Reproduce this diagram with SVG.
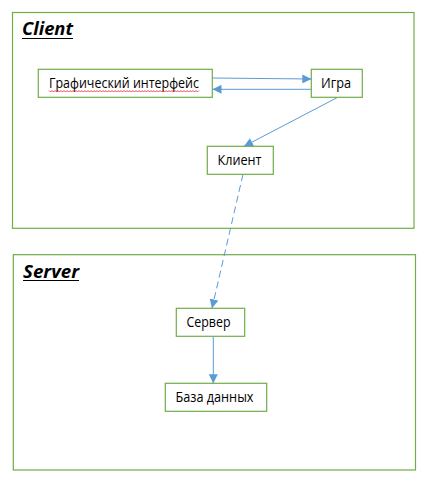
<svg xmlns="http://www.w3.org/2000/svg" width="440" height="485" viewBox="0 0 440 485">
<defs>
<style>
.frame{fill:none;stroke:#70AD47;stroke-width:1.2}
.box{fill:#fff;stroke:#70AD47;stroke-width:1.2}
.lbl{font-family:"Open Sans","Liberation Sans",sans-serif;font-size:14.5px;fill:#000}
.title{font-family:"Open Sans","Liberation Sans",sans-serif;font-size:17px;font-weight:bold;font-style:italic;fill:#000}
.conn{fill:none;stroke:#5B9BD5;stroke-width:1}
</style>
<marker id="ah" viewBox="0 0 10 10" refX="10" refY="5" markerWidth="9" markerHeight="9" markerUnits="userSpaceOnUse" orient="auto">
<path d="M0,0 L10,5 L0,10 z" fill="#5B9BD5"/>
</marker>
</defs>
<rect width="440" height="485" fill="#fff"/>
<g id="client-frame">
<rect class="frame" x="12.5" y="12.5" width="401.5" height="215.8"/>
<text class="title" x="22" y="35" textLength="51" lengthAdjust="spacingAndGlyphs">Client</text>
<line x1="22" y1="38.5" x2="73" y2="38.5" stroke="#000" stroke-width="1"/>
</g>
<g id="server-frame">
<rect class="frame" x="13.3" y="254.7" width="402.2" height="215.3"/>
<text class="title" x="23" y="277.5" textLength="56" lengthAdjust="spacingAndGlyphs">Server</text>
<line x1="23" y1="280.5" x2="79" y2="280.5" stroke="#000" stroke-width="1"/>
</g>
<g id="node-gui">
<rect class="box" x="38.3" y="69.3" width="174" height="28"/>
<text class="lbl" x="49" y="88.3" textLength="150" lengthAdjust="spacingAndGlyphs">Графический интерфейс</text>
<path d="M49,90.5 l1.5,1.5 l1.5,-1.5 l1.5,1.5 l1.5,-1.5 l1.5,1.5 l1.5,-1.5 l1.5,1.5 l1.5,-1.5 l1.5,1.5 l1.5,-1.5 l1.5,1.5 l1.5,-1.5 l1.5,1.5 l1.5,-1.5 l1.5,1.5 l1.5,-1.5 l1.5,1.5 l1.5,-1.5 l1.5,1.5 l1.5,-1.5
l1.5,1.5 l1.5,-1.5 l1.5,1.5 l1.5,-1.5 l1.5,1.5 l1.5,-1.5 l1.5,1.5 l1.5,-1.5 l1.5,1.5 l1.5,-1.5 l1.5,1.5 l1.5,-1.5 l1.5,1.5 l1.5,-1.5 l1.5,1.5 l1.5,-1.5 l1.5,1.5 l1.5,-1.5 l1.5,1.5 l1.5,-1.5
l1.5,1.5 l1.5,-1.5 l1.5,1.5 l1.5,-1.5 l1.5,1.5 l1.5,-1.5 l1.5,1.5 l1.5,-1.5 l1.5,1.5 l1.5,-1.5 l1.5,1.5 l1.5,-1.5 l1.5,1.5 l1.5,-1.5 l1.5,1.5 l1.5,-1.5 l1.5,1.5 l1.5,-1.5 l1.5,1.5 l1.5,-1.5
l1.5,1.5 l1.5,-1.5 l1.5,1.5 l1.5,-1.5 l1.5,1.5 l1.5,-1.5 l1.5,1.5 l1.5,-1.5 l1.5,1.5 l1.5,-1.5 l1.5,1.5 l1.5,-1.5 l1.5,1.5 l1.5,-1.5 l1.5,1.5 l1.5,-1.5 l1.5,1.5 l1.5,-1.5 l1.5,1.5 l1.5,-1.5
l1.5,1.5 l1.5,-1.5 l1.5,1.5 l1.5,-1.5 l1.5,1.5 l1.5,-1.5 l1.5,1.5 l1.5,-1.5 l1.5,1.5 l1.5,-1.5 l1.5,1.5 l1.5,-1.5 l1.5,1.5 l1.5,-1.5 l1.5,1.5 l1.5,-1.5 l1.5,1.5 l1.5,-1.5 l1.5,1.5 l1.5,-1.5" fill="none" stroke="#E02020" stroke-width="0.8"/>
</g>
<g id="node-game">
<rect class="box" x="311.3" y="69.3" width="51" height="28"/>
<text class="lbl" x="321" y="88.3" textLength="30" lengthAdjust="spacingAndGlyphs">Игра</text>
</g>
<g id="node-client">
<rect class="box" x="207.3" y="146.3" width="66" height="28"/>
<text class="lbl" x="217.5" y="165.3" textLength="44" lengthAdjust="spacingAndGlyphs">Клиент</text>
</g>
<g id="node-server">
<rect class="box" x="176.3" y="308.3" width="68.4" height="28"/>
<text class="lbl" x="186.5" y="327.3" textLength="44" lengthAdjust="spacingAndGlyphs">Сервер</text>
</g>
<g id="node-db">
<rect class="box" x="165.3" y="383.3" width="101.4" height="28"/>
<text class="lbl" x="175.5" y="402.3" textLength="78" lengthAdjust="spacingAndGlyphs">База данных</text>
</g>
<g id="connectors">
<line class="conn" x1="212.3" y1="78" x2="311.3" y2="79" marker-end="url(#ah)"/>
<line class="conn" x1="311.3" y1="89.3" x2="212.5" y2="89.3" marker-end="url(#ah)"/>
<line class="conn" x1="337" y1="97.7" x2="244" y2="146.3" marker-end="url(#ah)"/>
<line class="conn" x1="243" y1="174.3" x2="212" y2="308.3" stroke-dasharray="7,4" marker-end="url(#ah)"/>
<line class="conn" x1="213.3" y1="336.7" x2="213.3" y2="383.3" marker-end="url(#ah)"/>
</g>
</svg>
